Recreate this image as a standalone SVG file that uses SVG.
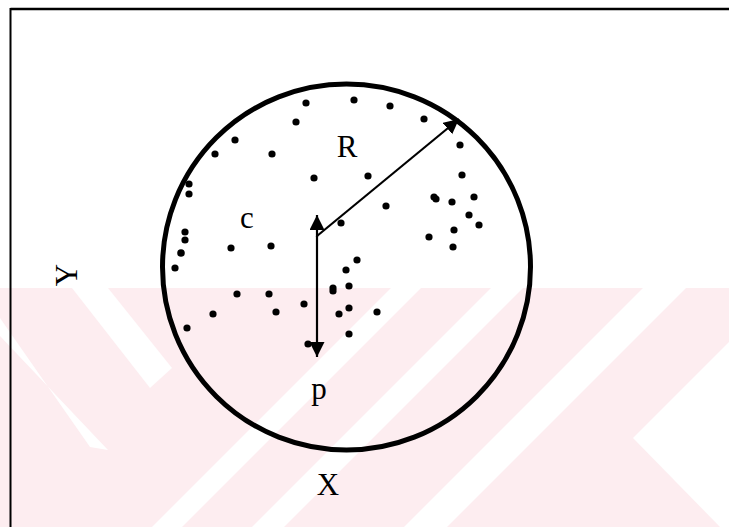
<svg xmlns="http://www.w3.org/2000/svg" width="729" height="527" viewBox="0 0 729 527">
  <style>
    .lbl { font-family: "Liberation Serif", "Times New Roman", serif; font-size: 31px; fill: #000; text-anchor: middle; }
    .dot { fill: #000; }
    .conn { stroke: #000; stroke-width: 2.2; fill: none; }
    .wm { fill: #ffffff; }
  </style>
  <defs>
    <marker id="arrow" markerUnits="userSpaceOnUse" markerWidth="16" markerHeight="16" refX="15" refY="7.5" orient="auto">
      <path d="M0,0 L15,7.5 L0,15 Z" fill="#000"/>
    </marker>
  </defs>
  <rect width="729" height="527" fill="#ffffff"/>
  <g id="watermark">
    <rect x="0" y="288" width="729" height="239" fill="#fdedf0"/>
    <polygon class="wm" points="72,288 108,288 172,368 150,388"/>
    <polygon class="wm" points="0,318 0,336 108,450 90,447"/>
    <polygon class="wm" points="152,527 182,527 421,288 391,288"/>
    <polygon class="wm" points="252,527 284,527 523,288 491,288"/>
    <polygon class="wm" points="404,527 447,527 686,288 643,288"/>
    <polygon class="wm" points="633,438 729,342 729,527 720,527"/>
  </g>
  <g id="frame">
    <line x1="10.5" y1="9" x2="729" y2="9" stroke="#000" stroke-width="2.5"/>
    <line x1="10.5" y1="8" x2="10.5" y2="527" stroke="#000" stroke-width="2"/>
  </g>
  <g id="circle">
    <ellipse cx="346.5" cy="267" rx="184" ry="183" fill="none" stroke="#000" stroke-width="5"/>
  </g>
  <g id="points">
    <circle class="dot" cx="306" cy="103" r="3.6"/>
    <circle class="dot" cx="354" cy="100" r="3.6"/>
    <circle class="dot" cx="390" cy="106" r="3.6"/>
    <circle class="dot" cx="424" cy="119" r="3.6"/>
    <circle class="dot" cx="296" cy="122" r="3.6"/>
    <circle class="dot" cx="235" cy="140" r="3.6"/>
    <circle class="dot" cx="215" cy="154" r="3.6"/>
    <circle class="dot" cx="272" cy="154" r="3.6"/>
    <circle class="dot" cx="460" cy="145" r="3.6"/>
    <circle class="dot" cx="314" cy="178" r="3.6"/>
    <circle class="dot" cx="368" cy="176" r="3.6"/>
    <circle class="dot" cx="462" cy="175" r="3.6"/>
    <circle class="dot" cx="189" cy="184" r="3.6"/>
    <circle class="dot" cx="189" cy="194" r="3.6"/>
    <circle class="dot" cx="434" cy="197" r="3.6"/>
    <circle class="dot" cx="436" cy="199" r="3.6"/>
    <circle class="dot" cx="452" cy="202" r="3.6"/>
    <circle class="dot" cx="474" cy="197" r="3.6"/>
    <circle class="dot" cx="386" cy="206" r="3.6"/>
    <circle class="dot" cx="469" cy="215" r="3.6"/>
    <circle class="dot" cx="479" cy="225" r="3.6"/>
    <circle class="dot" cx="454" cy="230" r="3.6"/>
    <circle class="dot" cx="341" cy="223" r="3.6"/>
    <circle class="dot" cx="429" cy="237" r="3.6"/>
    <circle class="dot" cx="453" cy="247" r="3.6"/>
    <circle class="dot" cx="185" cy="232" r="3.6"/>
    <circle class="dot" cx="185" cy="240" r="3.6"/>
    <circle class="dot" cx="181" cy="253" r="3.8"/>
    <circle class="dot" cx="175" cy="268" r="3.6"/>
    <circle class="dot" cx="231" cy="248" r="3.6"/>
    <circle class="dot" cx="271" cy="246" r="3.6"/>
    <circle class="dot" cx="357" cy="260" r="3.6"/>
    <circle class="dot" cx="346" cy="270" r="3.6"/>
    <circle class="dot" cx="333" cy="288" r="3.6"/>
    <circle class="dot" cx="333" cy="291" r="3.6"/>
    <circle class="dot" cx="349" cy="286" r="3.6"/>
    <circle class="dot" cx="237" cy="294" r="3.6"/>
    <circle class="dot" cx="269" cy="294" r="3.6"/>
    <circle class="dot" cx="213" cy="314" r="3.6"/>
    <circle class="dot" cx="276" cy="312" r="3.6"/>
    <circle class="dot" cx="304" cy="304" r="3.6"/>
    <circle class="dot" cx="339" cy="314" r="3.6"/>
    <circle class="dot" cx="349" cy="308" r="3.6"/>
    <circle class="dot" cx="377" cy="312" r="3.6"/>
    <circle class="dot" cx="187" cy="328" r="3.6"/>
    <circle class="dot" cx="349" cy="334" r="3.6"/>
    <circle class="dot" cx="308" cy="344" r="3.6"/>
  </g>
  <g id="connectors">
    <line class="conn" x1="317" y1="236" x2="459" y2="119" marker-end="url(#arrow)"/>
    <line class="conn" x1="317" y1="237" x2="317" y2="215" marker-end="url(#arrow)"/>
    <line class="conn" x1="317" y1="236" x2="317" y2="357" marker-end="url(#arrow)"/>
  </g>
  <g id="labels">
    <text class="lbl" x="347" y="157">R</text>
    <text class="lbl" x="247" y="228">c</text>
    <text class="lbl" x="319" y="399">p</text>
    <text class="lbl" x="328" y="495">X</text>
    <text class="lbl" x="77" y="275" transform="rotate(-90 77 275)">Y</text>
  </g>
</svg>
